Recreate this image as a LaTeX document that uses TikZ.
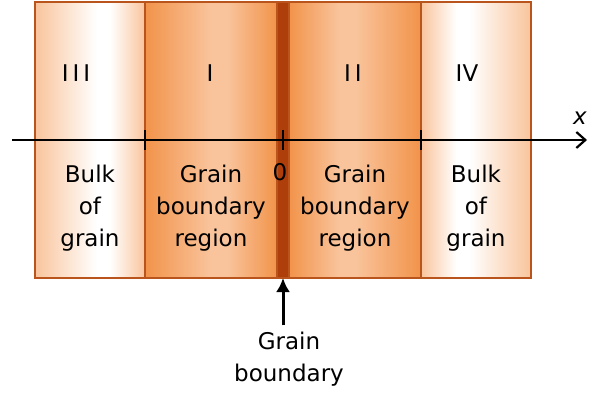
\documentclass[tikz,border=0pt]{standalone}
\usepackage{fontspec}
\setmainfont{DejaVu Sans}
\usetikzlibrary{positioning, calc, arrows.meta}

\definecolor{peach}{HTML}{F9C49C}
\definecolor{gborange}{HTML}{F2934A}
\definecolor{gbdark}{HTML}{AE3E0A}
\definecolor{gbedge}{HTML}{B9541C}

% shadings: the node box spans 25bp..75bp
\pgfdeclarehorizontalshading{bulkleft}{100bp}{color(0bp)=(peach); color(25bp)=(peach); color(53bp)=(white); color(59bp)=(white); color(75bp)=(peach); color(100bp)=(peach)}
\pgfdeclarehorizontalshading{bulkright}{100bp}{color(0bp)=(peach); color(25bp)=(peach); color(41bp)=(white); color(47bp)=(white); color(75bp)=(peach); color(100bp)=(peach)}
\pgfdeclarehorizontalshading{gbleft}{100bp}{color(0bp)=(gborange); color(25bp)=(gborange); color(50bp)=(peach); color(56bp)=(peach); color(75bp)=(gborange); color(100bp)=(gborange)}
\pgfdeclarehorizontalshading{gbright}{100bp}{color(0bp)=(gborange); color(25bp)=(gborange); color(44bp)=(peach); color(50bp)=(peach); color(75bp)=(gborange); color(100bp)=(gborange)}

\begin{document}
\begin{tikzpicture}[
% Define custom styles for the regions
    region/.style={
        draw=gbedge,
        line width=0.6pt,
        rectangle,
        minimum height=138pt,
        inner sep=0pt,
        outer sep=0pt
        },
    bulk/.style={region, minimum width=55pt},
    gbzone/.style={region, minimum width=66pt},
    every node/.style={font=\fontsize{11.5}{16}\selectfont, align=center}
]
\useasboundingbox (0,0) rectangle (295pt,-198pt);

\node[bulk, shading=bulkleft] (III) at (45pt,-70pt) {};
\node[gbzone, shading=gbleft, right=0pt of III] (I) {};
\node[region, minimum width=6pt, fill=gbdark, right=0pt of I] (gb) {};
\node[gbzone, shading=gbright, right=0pt of gb] (II) {};
\node[bulk, shading=bulkright, right=0pt of II] (IV) {};

\node at ($(III.center)+(-7pt,33.5pt)$) (n3) {I\kern2pt I\kern2pt I};
\node at ($(I.center)+(-0.5pt,33.5pt)$) (n1) {I};
\node at ($(II.center)+(-1pt,33.5pt)$) (n2) {I\kern2pt I};
\node at ($(IV.center)+(-4.5pt,33.5pt)$) (n4) {IV};

\node at ($(III.center)+(0,-34pt)$) (t3) {Bulk\\of\\grain};
\node at ($(I.center)+(0,-34pt)$) (t1) {Grain\\boundary\\region};
\node at ($(II.center)+(0,-34pt)$) (t2) {Grain\\boundary\\region};
\node at ($(IV.center)+(0,-34pt)$) (t4) {Bulk\\of\\grain};

% x axis
\coordinate (xstart) at (6pt,-70pt);
\coordinate (xend) at (293.5pt,-70pt);
\draw[-{Straight Barb[length=4.5pt,width=8pt]}, line width=1.1pt] (xstart) -- (xend);
\node at (290pt,-59pt) (xlab) {\textit{x}};
\foreach \n in {III.east, gb.center, II.east}
    \draw[line width=1.1pt] ($(\n)+(0,5pt)$) -- ($(\n)+(0,-5pt)$);
\node at ($(gb.center)+(-1.5pt,-16pt)$) (zero) {0};

% grain boundary pointer
\node at ($(gb.south)+(3pt,-40.75pt)$) (gblabel) {Grain\\boundary};
\draw[-{Latex[length=7pt,width=7pt]}, line width=1.5pt] (gblabel.north -| gb.south) -- (gb.south);

\end{tikzpicture}
\end{document}
